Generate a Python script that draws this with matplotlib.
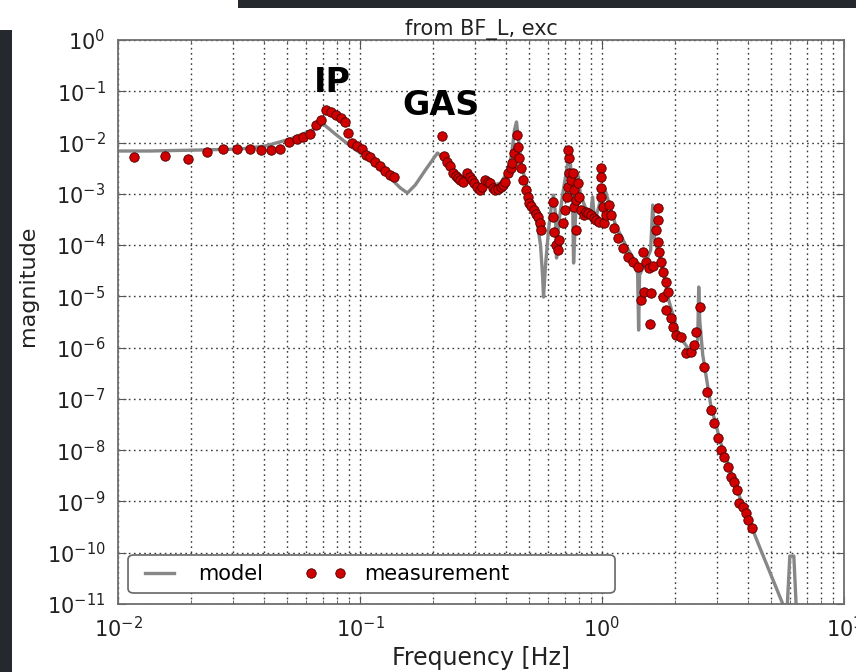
import matplotlib
matplotlib.use("Agg")
import matplotlib.pyplot as plt
from matplotlib.patches import Rectangle, FancyBboxPatch
from matplotlib.ticker import LogLocator, NullLocator, NullFormatter

# model transfer function (grey line)
model_freq = [0.0100, 0.01356, 0.02184, 0.03197, 0.04057, 0.05147, 0.0623, 0.0705,
              0.0790, 0.0912, 0.1103, 0.1335, 0.1468, 0.1570, 0.1693, 0.1863,
              0.2089, 0.219, 0.2364, 0.2600, 0.2860, 0.3145, 0.3460, 0.3807,
              0.4068, 0.4227, 0.4349, 0.4433, 0.4518, 0.4649, 0.4876, 0.5163,
              0.5415, 0.5572, 0.5679, 0.5733, 0.5844, 0.6013, 0.6187, 0.6305,
              0.6427, 0.6489, 0.6613, 0.6871, 0.7138, 0.7275, 0.7416, 0.7559,
              0.7631, 0.7778, 0.7926, 0.8157, 0.8553, 0.8970, 0.9144, 0.9319,
              0.9867, 1.025, 1.065, 1.138, 1.252, 1.377, 1.404, 1.417,
              1.430, 1.515, 1.589, 1.620, 1.651, 1.748, 1.886, 2.075,
              2.326, 2.486, 2.510, 2.534, 2.608, 2.814, 3.095, 3.745,
              4.531, 5.587, 5.803, 5.972, 6.204, 6.384, 10.18]
model_mag = [0.00684, 0.00684, 0.00715, 0.00748, 0.00856, 0.0117, 0.0168, 0.0230,
             0.0147, 0.00856, 0.00456, 0.00203, 0.00130, 0.00104, 0.00149, 0.00291,
             0.00625, 0.00522, 0.00349, 0.00223, 0.00178, 0.00149, 0.00142, 0.00162,
             0.00266, 0.00571, 0.01757, 0.0252, 0.0112, 0.00365, 0.00149, 0.000605,
             0.000246, 1.0e-4, 2.61e-5, 9.7e-6, 4.09e-5, 1.97e-4, 0.000605, 0.000948,
             0.000386, 5.6e-5, 0.000246, 0.000948, 0.00291, 0.00499, 0.00365, 0.000757,
             4.47e-5, 0.000386, 0.00255, 0.00095, 0.000529, 0.000386, 0.000867, 0.000282,
             0.000757, 0.00130, 0.000692, 0.000246, 1.0e-4, 4.68e-5, 2.61e-5, 2.2e-6,
             2.61e-5, 4.68e-5, 8.02e-5, 0.000605, 0.000126, 5.1e-5, 8.5e-6, 1.76e-6,
             8.2e-7, 1.41e-6, 1.52e-5, 3.46e-6, 7.2e-7, 7.6e-8, 1.38e-8, 1.07e-9,
             1.13e-10, 1.0e-11, 6.1e-12, 8.6e-11, 8.6e-11, 4.9e-12, 1.3e-12]

# measured transfer function (red dots)
meas_freq = [0.01165, 0.01565, 0.0195, 0.02335, 0.0272, 0.0311, 0.0352, 0.0390,
             0.0430, 0.0468, 0.0510, 0.0550, 0.0583, 0.0623, 0.0660, 0.0692,
             0.0726, 0.0761, 0.0798, 0.0837, 0.0870, 0.0895, 0.0929, 0.0975,
             0.1022, 0.1062, 0.1103, 0.1157, 0.1213, 0.1273, 0.1335, 0.1387,
             0.219, 0.2233, 0.2297, 0.2364, 0.2432, 0.2503, 0.2551, 0.2600,
             0.2676, 0.2780, 0.2860, 0.2915, 0.2971, 0.3057, 0.3145, 0.3206,
             0.3299, 0.3395, 0.3460, 0.3561, 0.3629, 0.3735, 0.3807, 0.3917,
             0.3992, 0.4108, 0.4187, 0.4267, 0.4349, 0.4433, 0.4518, 0.4561,
             0.4605, 0.4738, 0.4830, 0.4923, 0.4970, 0.5066, 0.5212, 0.5313,
             0.5415, 0.5519, 0.5572, 0.6246, 0.6246, 0.6305, 0.6427, 0.6551,
             0.6613, 0.6871, 0.7004, 0.7138, 0.7207, 0.7275, 0.7275, 0.7207,
             0.7416, 0.7559, 0.7631, 0.7631, 0.7778, 0.7778, 0.7926, 0.8003,
             0.8157, 0.8393, 0.8553, 0.8718, 0.8970, 0.9230, 0.9408, 0.9680,
             0.9867, 0.9867, 0.9867, 0.9867, 1.006, 1.015, 1.035, 1.065,
             1.085, 1.117, 1.160, 1.217, 1.276, 1.338, 1.404, 1.444,
             1.472, 1.486, 1.515, 1.559, 1.574, 1.589, 1.620, 1.667,
             1.698, 1.698, 1.698, 1.715, 1.748, 1.781, 1.781, 1.833,
             1.833, 1.868, 1.922, 1.960, 2.016, 2.114, 2.218, 2.326,
             2.393, 2.439, 2.534, 2.633, 2.709, 2.814, 2.896, 3.008,
             3.095, 3.185, 3.309, 3.405, 3.504, 3.606, 3.675, 3.818,
             3.929, 4.005, 4.159]
meas_mag = [0.00522, 0.00546, 0.00477, 0.00654, 0.00748, 0.00748, 0.00748, 0.00715,
            0.00715, 0.00748, 0.01024, 0.01172, 0.01282, 0.01467, 0.0220, 0.0275,
            0.0431, 0.0394, 0.0345, 0.0301, 0.0252, 0.01535, 0.00979, 0.00856,
            0.00748, 0.00571, 0.00522, 0.00417, 0.00349, 0.00279, 0.00233, 0.00213,
            0.01341, 0.00546, 0.00417, 0.00349, 0.00255, 0.00223, 0.00203, 0.00186,
            0.00170, 0.00255, 0.00213, 0.00186, 0.00162, 0.00136, 0.00119, 0.00136,
            0.00186, 0.00170, 0.00162, 0.00130, 0.00119, 0.00124, 0.00136, 0.00149,
            0.00170, 0.00255, 0.00319, 0.00399, 0.00625, 0.01403, 0.00818, 0.00499,
            0.00319, 0.00186, 0.00119, 0.000867, 0.000662, 0.000578, 0.000483, 0.000404,
            0.000353, 0.000270, 0.000197, 0.000692, 0.000353, 0.000180, 0.000100, 8.02e-5,
            0.000126, 0.000270, 0.000483, 0.000867, 0.00136, 0.00255, 0.00499, 0.00715,
            0.00186, 0.00255, 0.00119, 0.000553, 0.000197, 0.000757, 0.00162, 0.000867,
            0.000483, 0.000386, 0.000442, 0.000422, 0.000386, 0.000337, 0.000308, 0.000282,
            0.00319, 0.00213, 0.00130, 0.000867, 0.000553, 0.000270, 0.000386, 0.000605,
            0.000386, 0.000215, 0.000137, 8.77e-5, 5.85e-5, 4.68e-5, 3.74e-5, 8.49e-6,
            7.33e-5, 1.22e-5, 4.68e-5, 3.57e-5, 2.89e-6, 1.16e-5, 3.91e-5, 0.000197,
            0.000529, 0.000308, 0.000115, 7.33e-5, 4.68e-5, 2.99e-5, 9.71e-6, 1.91e-5,
            5.42e-6, 1.22e-5, 3.78e-6, 2.52e-6, 1.76e-6, 1.61e-6, 7.85e-7, 8.21e-7,
            1.12e-6, 2.02e-6, 6.20e-6, 4.19e-7, 1.36e-7, 6.07e-8, 3.39e-8, 1.73e-8,
            1.01e-8, 7.35e-9, 4.69e-9, 3.00e-9, 2.39e-9, 1.67e-9, 9.32e-10, 7.79e-10,
            5.94e-10, 4.34e-10, 3.03e-10]

fig = plt.figure(figsize=(8.56, 6.72), dpi=100)
fig.patch.set_facecolor('white')

# dark slide pieces around the screenshot
fig.add_artist(Rectangle((0.278, 0.988), 0.722, 0.012, transform=fig.transFigure,
                         facecolor='#25292d', edgecolor='none'))
fig.add_artist(Rectangle((0.0, 0.0), 0.014, 0.955, transform=fig.transFigure,
                         facecolor='#25292d', edgecolor='none'))

ax = fig.add_axes([118 / 856, 1 - 604 / 672, 726 / 856, 564 / 672])
ax.set_xscale('log')
ax.set_yscale('log')

ax.plot(model_freq, model_mag, color='#878787', lw=2.4, label='model', zorder=2)
ax.plot(meas_freq, meas_mag, 'o', color='#d00000', mec='#4a0000', mew=0.6,
        ms=6.8, label='measurement', zorder=3)

ax.set_xlim(1e-2, 1e1)
ax.set_ylim(1e-11, 1e0)
ax.yaxis.set_major_locator(LogLocator(base=10, numticks=20))
ax.yaxis.set_minor_locator(NullLocator())
ax.xaxis.set_minor_locator(LogLocator(base=10, subs=range(2, 10), numticks=20))
ax.xaxis.set_minor_formatter(NullFormatter())

ax.grid(True, which='major', color='#3a3a3a', linestyle=(0, (1.2, 2.5)), lw=1)
ax.grid(True, which='minor', axis='x', color='#3a3a3a', linestyle=(0, (1.2, 2.5)), lw=1)
for s in ax.spines.values():
    s.set_color('#6e6e6e')
    s.set_linewidth(1.3)
ax.tick_params(which='both', direction='in', top=True, right=True, colors='#555555',
               labelcolor='#222222', labelsize=15)
ax.tick_params(which='major', length=6, pad=9)
ax.tick_params(which='minor', length=3)

ax.set_title('from BF_L, exc', fontsize=15, color='#222222', pad=3)
ax.set_xlabel('Frequency [Hz]', fontsize=17, color='#222222', labelpad=3)
ax.set_ylabel('magnitude', fontsize=16, color='#222222')
ax.yaxis.set_label_coords(-0.110, 0.565)

ax.text(0.0768, 0.0968, 'IP', fontsize=24, fontweight='bold', ha='center', va='baseline')
ax.text(0.217, 0.0345, 'GAS', fontsize=24, fontweight='bold', ha='center', va='baseline')

# legend entries without frame, frame drawn separately (wider than the entries)
ax.add_patch(FancyBboxPatch((0.0138, 0.0195), 0.6708, 0.0674, transform=ax.transAxes,
                            boxstyle='round,pad=0,rounding_size=0.008',
                            facecolor='white', edgecolor='#666666', lw=1.2, zorder=4))
leg = ax.legend(loc='center left', bbox_to_anchor=(0.0138, 0.0532), ncol=2, numpoints=2,
                fontsize=15, frameon=False, handlelength=2.0, handletextpad=0.85,
                columnspacing=2.0, borderpad=0.5, borderaxespad=0)
leg.set_zorder(5)

fig.savefig('out.png', dpi=100)
